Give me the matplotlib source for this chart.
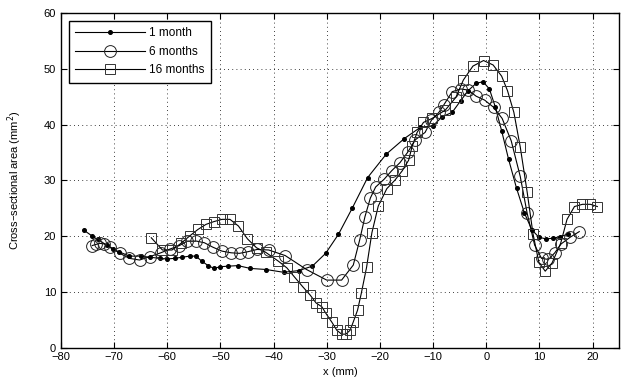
import matplotlib
matplotlib.use("Agg")
import matplotlib.pyplot as plt

plt.rcParams['font.family'] = ['Liberation Sans', 'DejaVu Sans']

x_1m = [-75.6, -74.1, -73.1, -71.4, -70.2, -69.1, -67.1, -65.0, -63.2, -61.4, -60.0, -58.6,
        -57.2, -55.8, -54.6, -53.5, -52.3, -51.2, -50.0, -48.5, -46.7, -44.4, -41.4, -38.1,
        -35.3, -32.7, -30.2, -27.8, -25.2, -22.3, -18.8, -15.4, -12.4, -10.0, -8.3, -6.4,
        -4.8, -3.4, -1.9, -0.6, 0.6, 1.7, 2.9, 4.2, 5.7, 7.2, 8.6, 9.9, 11.2, 12.5, 13.9, 15.3]
y_1m = [21.0, 20.0, 19.4, 18.4, 17.6, 17.2, 16.4, 16.4, 16.2, 16.0, 15.9, 16.0,
        16.2, 16.4, 16.4, 15.5, 14.7, 14.2, 14.5, 14.6, 14.7, 14.2, 14.0, 13.5,
        13.8, 14.6, 16.9, 20.3, 25.0, 30.5, 34.7, 37.5, 39.5, 39.8, 41.4, 42.2,
        44.3, 46.1, 47.4, 47.7, 46.4, 43.2, 38.9, 33.8, 28.6, 24.1, 21.1, 19.8, 19.5, 19.6, 19.9, 20.3]

x_6m = [-74.1, -73.4, -72.7, -71.9, -70.8, -68.9, -67.1, -65.2, -63.3, -61.2, -59.4, -57.7,
        -56.2, -54.5, -53.0, -51.4, -49.7, -48.0, -46.4, -44.8, -43.1, -40.9, -37.8, -33.8,
        -30.0, -27.2, -25.0, -23.8, -22.8, -21.8, -20.8, -19.2, -17.8, -16.2, -14.8, -13.3,
        -11.5, -10.3, -8.9, -8.0, -6.4, -4.8, -3.4, -1.9, -0.3, 1.4, 3.0, 4.7, 6.4, 7.7,
        9.1, 10.4, 11.7, 12.9, 14.1, 15.8, 17.5]
y_6m = [18.3, 18.5, 18.7, 18.6, 18.1, 16.9, 16.0, 15.7, 16.3, 17.0, 17.7, 18.3,
        19.1, 19.1, 18.8, 18.0, 17.3, 17.0, 16.9, 17.2, 17.6, 17.5, 16.5, 14.0,
        12.1, 12.1, 14.8, 19.3, 23.5, 26.8, 28.8, 30.2, 31.7, 33.2, 35.0, 37.3,
        38.6, 40.8, 42.2, 43.5, 45.9, 46.4, 46.2, 45.1, 44.4, 43.1, 41.1, 37.1, 30.7, 24.1,
        18.4, 16.0, 15.8, 17.0, 18.6, 19.8, 20.8]

x_16m = [-63.0, -60.9, -59.1, -57.4, -55.8, -54.2, -52.7, -51.2, -49.7, -48.2, -46.6, -44.9,
         -43.2, -41.5, -39.1, -37.5, -36.1, -34.5, -33.1, -32.0, -30.9, -30.2, -29.0, -28.1,
         -27.2, -26.4, -25.6, -25.0, -24.2, -23.5, -22.5, -21.5, -20.3, -18.7, -17.2, -15.8,
         -14.6, -13.9, -13.0, -11.8, -10.2, -7.7, -5.7, -4.3, -2.5, -0.5, 1.3, 2.9, 4.0,
         5.2, 6.4, 7.7, 8.8, 9.9, 11.1, 12.4, 14.0, 15.2, 16.6, 18.1, 19.6, 20.9]
y_16m = [19.7, 17.5, 17.5, 18.7, 20.0, 21.2, 22.1, 22.6, 23.0, 23.0, 21.8, 19.5,
         17.9, 17.1, 15.5, 14.3, 12.7, 10.9, 9.4, 8.0, 7.3, 6.2, 4.5, 3.1,
         2.4, 2.4, 3.1, 4.6, 6.7, 9.7, 14.4, 20.6, 25.4, 28.5, 30.0, 31.7,
         33.6, 36.2, 38.6, 40.4, 41.1, 42.6, 44.9, 48.0, 50.5, 51.5, 50.7, 48.7, 46.1,
         42.2, 36.0, 27.9, 20.4, 15.3, 13.7, 15.2, 18.7, 23.0, 25.3, 25.7, 25.7, 25.3]

xticks = [-80, -70, -60, -50, -40, -30, -20, -10, 0, 10, 20]
yticks = [0, 10, 20, 30, 40, 50, 60]

fig = plt.figure(figsize=(6.21, 3.87), dpi=100)
ax = fig.add_axes([0.098, 0.102, 0.899, 0.864])

lc = 'black'
ax.plot(x_1m, y_1m, '-', color=lc, lw=0.8, marker='o', ms=2.6, mfc='black', mec='black',
        label='1 month')
ax.plot(x_6m, y_6m, '-', color=lc, lw=0.8, marker='o', ms=8.5, mfc='none', mec='#222222',
        mew=0.7, label='6 months')
ax.plot(x_16m, y_16m, '-', color=lc, lw=0.8, marker='s', ms=7.5, mfc='none', mec='#333333',
        mew=0.7, label='16 months')

ax.set_xlim(-80, 25)
ax.set_ylim(0, 60)
ax.set_xticks(xticks)
ax.set_yticks(yticks)
ax.set_xticklabels([str(t).replace('-', '\u2212') for t in xticks])
ax.tick_params(direction='in', top=True, right=True, labelsize=8, length=4, width=0.8)
ax.grid(True, linestyle=(0, (1, 4)), color='black', lw=0.6)
for s in ax.spines.values():
    s.set_linewidth(1.0)

ax.set_xlabel('x (mm)', fontsize=8, labelpad=3)
ax.set_ylabel('Cross\u2013sectional area (mm$^2$)', fontsize=8, labelpad=14)

leg = ax.legend(loc='upper left', fontsize=8.5, frameon=True, fancybox=False, edgecolor='black',
                framealpha=1, borderpad=0.55, handlelength=5.9, handletextpad=0.4,
                labelspacing=0.55, bbox_to_anchor=(0.0, 1.0), borderaxespad=0.65)
leg.get_frame().set_linewidth(1.0)

fig.savefig('out.png', dpi=100)
